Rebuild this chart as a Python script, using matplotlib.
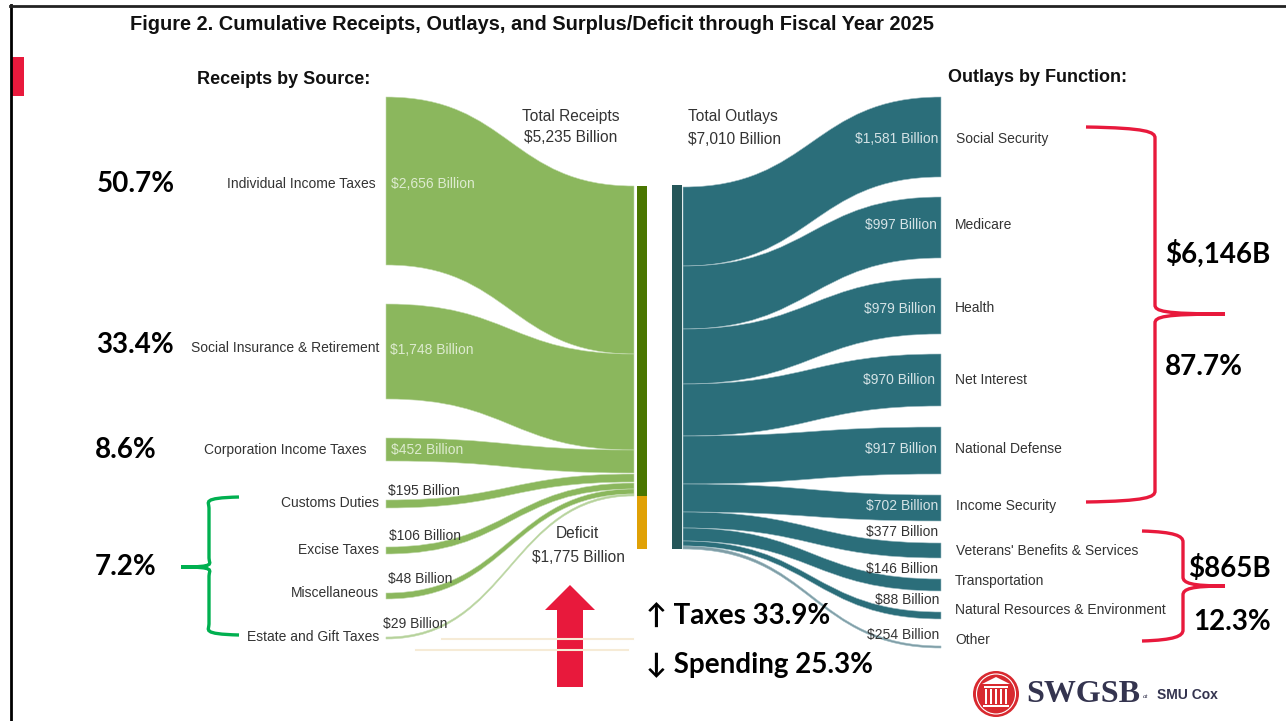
import matplotlib
matplotlib.use('Agg')
import matplotlib.pyplot as plt
from matplotlib.patches import PathPatch, Rectangle, Circle, Ellipse, Polygon
from matplotlib.path import Path

# values
receipt_names = ['Individual Income Taxes', 'Social Insurance & Retirement', 'Corporation Income Taxes',
                 'Customs Duties', 'Excise Taxes', 'Miscellaneous', 'Estate and Gift Taxes']
receipt_values = [2656, 1748, 452, 195, 106, 48, 29]
outlay_names = ['Social Security', 'Medicare', 'Health', 'Net Interest', 'National Defense', 'Income Security',
                "Veterans' Benefits & Services", 'Transportation', 'Natural Resources & Environment', 'Other']
outlay_values = [1581, 997, 979, 970, 917, 702, 377, 146, 88, 254]
total_receipts = 5235
total_outlays = 7010
deficit = 1775

# layout of the sankey in image pixels (the ribbon widths are not to scale in the original)
rec_src = [(97, 265), (304, 399), (438, 461), (500, 508), (547, 554), (593, 599), (637, 639)]
rec_dst = [(186, 354), (354, 450), (450, 473), (474, 482), (483, 489), (489, 494), (494, 496)]
out_dst = [(97, 177), (197, 258), (278, 334), (354, 406), (427, 474), (495, 521),
           (543, 558), (579, 591), (612, 619), (646, 648)]
out_src = [(187, 266), (266, 329), (329, 384), (384, 436), (436, 484), (484, 512),
           (512, 528), (528, 541), (541, 546), (546, 549)]

GREEN = '#8BB75D'
TEAL = '#2B6E7A'
RED = '#E8193C'
SANS = 'Liberation Sans'
CAL = 'Lato'

fig = plt.figure(figsize=(12.86, 7.21), dpi=100)
ax = fig.add_axes([0, 0, 1, 1])
ax.set_xlim(0, 1286)
ax.set_ylim(721, 0)
ax.axis('off')


def flow(x0, x1, a, b, color, **kw):
    mid = (x0 + x1) / 2
    verts = [(x0, a[0]), (mid, a[0]), (mid, b[0]), (x1, b[0]),
             (x1, b[1]), (mid, b[1]), (mid, a[1]), (x0, a[1]), (x0, a[0])]
    codes = [Path.MOVETO, Path.CURVE4, Path.CURVE4, Path.CURVE4,
             Path.LINETO, Path.CURVE4, Path.CURVE4, Path.CURVE4, Path.CLOSEPOLY]
    ax.add_patch(PathPatch(Path(verts, codes), facecolor=color, **kw))


def brace(xend, xv, xtip, y0, ytip, y1, color, lw):
    r = 9
    verts = [(xend, y0), (xv - 8, y0 + 1), (xv, y0 + 5), (xv, y0 + r + 2),
             (xv, ytip - r), (xv, ytip - 3), (xv + 8, ytip), (xtip, ytip),
             (xv + 8, ytip), (xv, ytip + 3), (xv, ytip + r),
             (xv, y1 - r - 2), (xv, y1 - 5), (xv - 8, y1 - 1), (xend, y1)]
    codes = [Path.MOVETO, Path.CURVE4, Path.CURVE4, Path.CURVE4,
             Path.LINETO, Path.CURVE4, Path.CURVE4, Path.CURVE4,
             Path.CURVE4, Path.CURVE4, Path.CURVE4,
             Path.LINETO, Path.CURVE4, Path.CURVE4, Path.CURVE4]
    ax.add_patch(PathPatch(Path(verts, codes), fill=False, edgecolor=color, lw=lw))


# slide frame and the red tab
ax.plot([10.5, 10.5], [5, 721], color='black', lw=2)
ax.plot([10, 1286], [5.5, 5.5], color='#222222', lw=2)
ax.add_patch(Rectangle((11, 57), 13, 39, color=RED, lw=0))

# faint lines under the deficit
ax.plot([442, 633], [639, 639], color='#F6EBD6', lw=1.5)
ax.plot([416, 628], [650, 650], color='#F6EBD6', lw=1.5)

# receipts
for i in range(len(receipt_values)):
    col = GREEN
    if i == 6:
        col = '#B5D29A'
    flow(386, 634, rec_src[i], rec_dst[i], col, edgecolor='#C4DBAE', lw=0.4)
ax.add_patch(Rectangle((637, 186), 10, 310, color='#4A7600', lw=0))
ax.add_patch(Rectangle((637, 496), 10, 53, color='#E0A106', lw=0))

# outlays
for i in range(len(outlay_values)):
    col = TEAL
    if i == 9:
        col = '#7F9DA6'
    flow(683, 941, out_src[i], out_dst[i], col, edgecolor='#9DBCC3', lw=0.4)
ax.add_patch(Rectangle((672, 185), 10, 364, color='#255659', lw=0))

# titles
ax.text(130, 25, 'Figure 2. Cumulative Receipts, Outlays, and Surplus/Deficit through Fiscal Year 2025',
        fontsize=14.4, fontweight='bold', family=SANS, va='center', color='#111111')
ax.text(197, 79, 'Receipts by Source:', fontsize=13, fontweight='bold', family=SANS, va='center', color='#111111')
ax.text(948, 78, 'Outlays by Function:', fontsize=13, fontweight='bold', family=SANS, va='center', color='#111111')

# centre labels
ax.text(571, 116, 'Total Receipts', fontsize=11.2, family=SANS, ha='center', va='center', color='#333333')
ax.text(571, 137, f'${total_receipts:,} Billion', fontsize=11.2, family=SANS, ha='center', va='center', color='#333333')
ax.text(733, 117, 'Total Outlays', fontsize=11.2, family=SANS, ha='center', va='center', color='#333333')
ax.text(735, 140, f'${total_outlays:,} Billion', fontsize=11.2, family=SANS, ha='center', va='center', color='#333333')
ax.text(577, 533, 'Deficit', fontsize=11.2, family=SANS, ha='center', va='center', color='#333333')
ax.text(578, 558, f'${deficit:,} Billion', fontsize=11.2, family=SANS, ha='center', va='center', color='#333333')

# receipt labels
rec_name_xy = [(376, 184), (379, 348), (367, 450), (379, 503), (379, 550), (379, 593), (379, 637)]
rec_val_xy = [(391, 184), (390, 350), (391, 450), (388, 491), (389, 536), (388, 579), (383, 624)]
for i in range(len(receipt_values)):
    ax.text(rec_name_xy[i][0], rec_name_xy[i][1], receipt_names[i], fontsize=10, family=SANS, ha='right', va='center', color='#333333')
    vc = '#DDEBCF' if i < 3 else '#333333'
    ax.text(rec_val_xy[i][0], rec_val_xy[i][1], f'${receipt_values[i]:,} Billion', fontsize=10, family=SANS, va='center', color=vc)

# outlay labels
out_name_xy = [(956, 139), (955, 225), (955, 308), (955, 380), (955, 449), (956, 506),
               (956, 551), (955, 581), (955, 610), (955, 640)]
out_val_xy = [(938, 139), (937, 225), (936, 309), (935, 380), (937, 449), (938, 506),
              (938, 532), (938, 569), (939, 600), (939, 635)]
for i in range(len(outlay_values)):
    ax.text(out_name_xy[i][0], out_name_xy[i][1], outlay_names[i], fontsize=10, family=SANS, va='center', color='#333333')
    vc = '#D5E3E6' if i < 6 else '#333333'
    ax.text(out_val_xy[i][0], out_val_xy[i][1], f'${outlay_values[i]:,} Billion', fontsize=10, family=SANS, ha='right', va='center', color=vc)

# annotations on top of the chart
pct_text = ['50.7%', '33.4%', '8.6%', '7.2%']
pct_xy = [(97, 184), (96, 345), (95, 450), (95, 567)]
for t, (x, y) in zip(pct_text, pct_xy):
    ax.text(x, y, t, fontsize=20, fontweight='bold', family=CAL, va='center', color='black')

brace(239, 209, 181, 497, 567, 635, '#00B050', 2.4)
brace(1086, 1155, 1225, 127, 314, 502, RED, 2.4)
brace(1142, 1183, 1225, 531, 586, 641, RED, 2.4)

ax.text(1165, 254, '$6,146B', fontsize=20, fontweight='bold', family=CAL, va='center', color='black')
ax.text(1165, 367, '87.7%', fontsize=20, fontweight='bold', family=CAL, va='center', color='black')
ax.text(1188, 568, '$865B', fontsize=20, fontweight='bold', family=CAL, va='center', color='black')
ax.text(1193, 622, '12.3%', fontsize=20, fontweight='bold', family=CAL, va='center', color='black')

ax.text(646, 617, '↑ Taxes 33.9%', fontsize=20, fontweight='bold', family=[CAL, 'DejaVu Sans'], va='center', color='black')
ax.text(646, 665, '↓ Spending 25.3%', fontsize=20, fontweight='bold', family=[CAL, 'DejaVu Sans'], va='center', color='black')

ax.add_patch(Polygon([(570, 585), (595, 610), (583, 610), (583, 687), (557, 687), (557, 610), (545, 610)],
                     closed=True, color=RED, lw=0))

# logo
ax.add_patch(Ellipse((996, 694), 46, 46, facecolor='#D8292F', edgecolor='none'))
ax.add_patch(Ellipse((996, 694), 39, 40, facecolor='none', edgecolor='white', lw=0.8))
ax.add_patch(Polygon([(982, 684), (996, 677), (1010, 684)], closed=True, color='white', lw=0))
ax.add_patch(Rectangle((984, 686), 24, 2, color='white', lw=0))
ax.add_patch(Rectangle((983, 705), 26, 2, color='white', lw=0))
for cx in [986, 991, 996, 1001, 1006]:
    ax.add_patch(Rectangle((cx - 1, 689), 2, 15, color='white', lw=0))
ax.text(1026, 695, 'SWGSB', fontsize=23, fontweight='bold', family='Liberation Serif', va='center', color='#34344F')
ax.text(1143, 696, 'at', fontsize=5, style='italic', family='Liberation Serif', va='center', color='#34344F')
ax.text(1157, 695, 'SMU Cox', fontsize=10, fontweight='bold', family=SANS, va='center', color='#34344F')

fig.savefig('out.png', dpi=100)
